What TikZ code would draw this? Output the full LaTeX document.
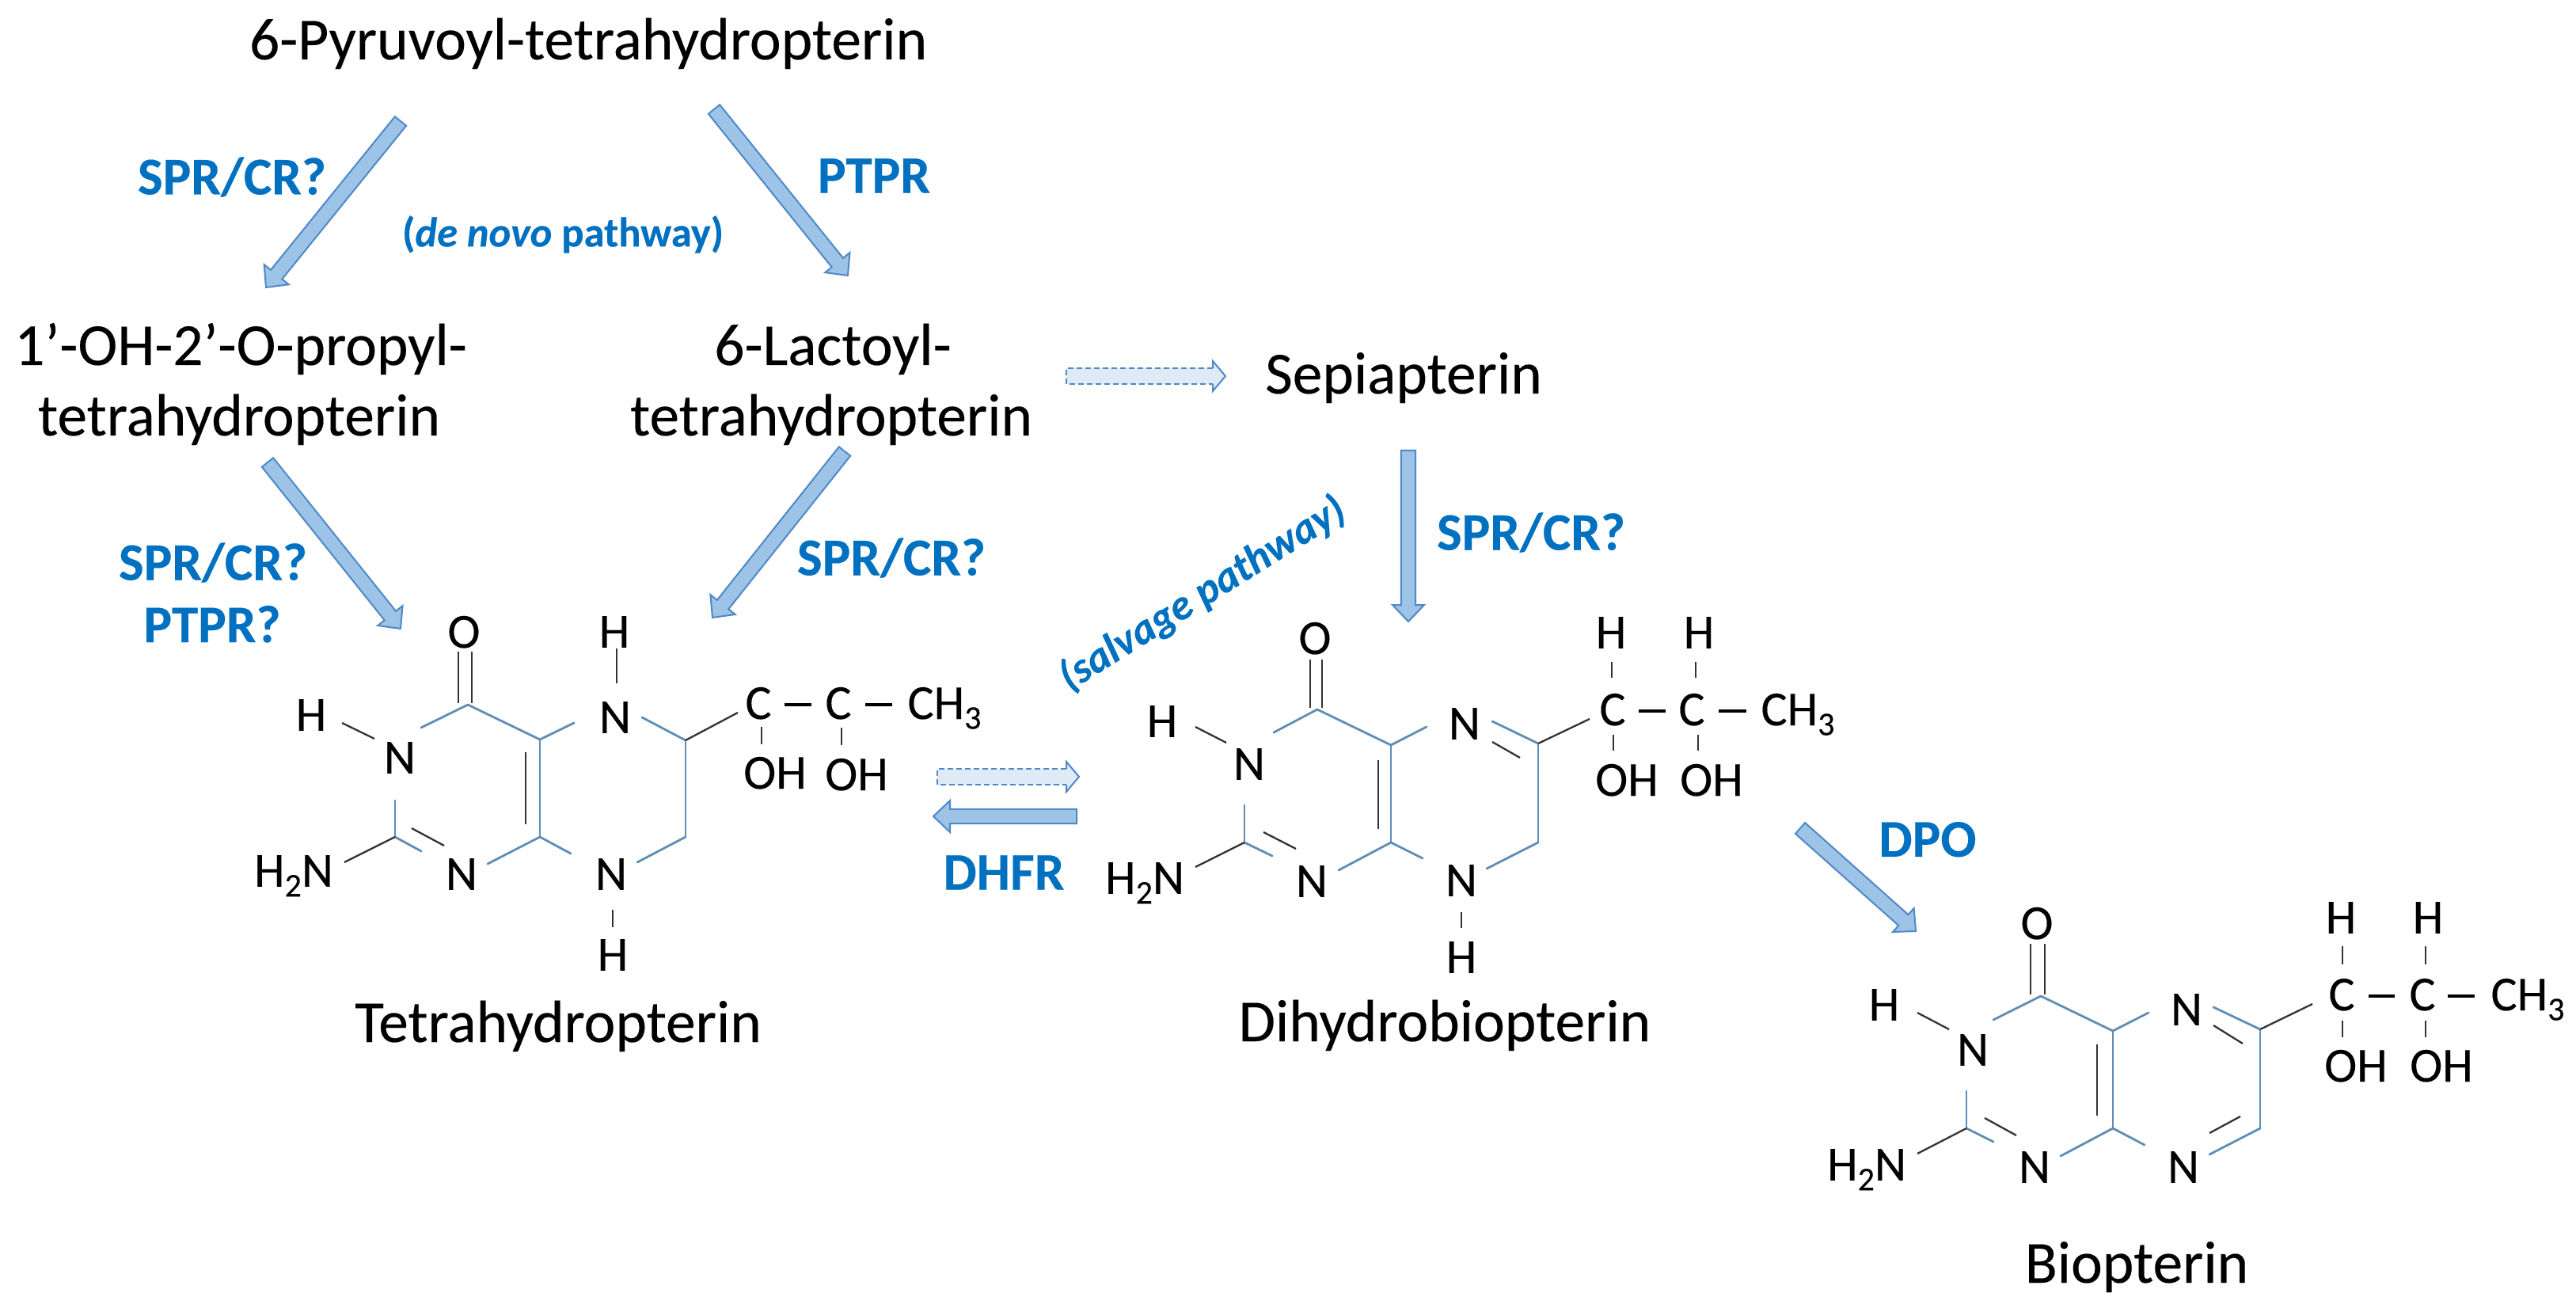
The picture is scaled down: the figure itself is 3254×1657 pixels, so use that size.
\documentclass[tikz,border=0pt]{standalone}
\usepackage{fontspec}
\setmainfont{Carlito}[FakeBold=0.18]
\usetikzlibrary{calc}
\definecolor{labelblue}{HTML}{0070C0}
\definecolor{arrowfill}{HTML}{9DC3E6}
\definecolor{arrowline}{HTML}{4F88C6}
\definecolor{dashfill}{HTML}{DEEAF6}
\definecolor{ringblue}{HTML}{5F8DB5}
\definecolor{blackbond}{HTML}{333333}
\newcommand{\lowtwo}[1]{\raisebox{-.2em}{\fontsize{21}{21}\selectfont #1}}
\newcommand{\bondline}[4]{\coordinate (#2a) at (#3); \coordinate (#2b) at (#4); \draw[#1] (#2a) -- (#2b);}
\newcommand{\blockarrow}[2]{%
  \coordinate (ba) at ($(#2)!10.5pt!(#1)$);
  \coordinate (#1L) at ($(#1)!4.6pt!90:(#2)$);
  \coordinate (#1R) at ($(#1)!4.6pt!-90:(#2)$);
  \coordinate (#2NL) at ($(ba)!4.6pt!90:(#2)$);
  \coordinate (#2NR) at ($(ba)!4.6pt!-90:(#2)$);
  \coordinate (#2HL) at ($(ba)!10pt!90:(#2)$);
  \coordinate (#2HR) at ($(ba)!10pt!-90:(#2)$);
  \draw[reactarrow] (#1L) -- (#2NL) -- (#2HL) -- (#2) -- (#2HR) -- (#2NR) -- (#1R) -- cycle;}
\newcommand{\dasharrow}[2]{%
  \coordinate (ba) at ($(#2)!8pt!(#1)$);
  \coordinate (#1L) at ($(#1)!5pt!90:(#2)$);
  \coordinate (#1R) at ($(#1)!5pt!-90:(#2)$);
  \coordinate (#2NL) at ($(ba)!5pt!90:(#2)$);
  \coordinate (#2NR) at ($(ba)!5pt!-90:(#2)$);
  \coordinate (#2HL) at ($(ba)!9.5pt!90:(#2)$);
  \coordinate (#2HR) at ($(ba)!9.5pt!-90:(#2)$);
  \fill[dashfill] (#1L) -- (#2NL) -- (#2HL) -- (#2) -- (#2HR) -- (#2NR) -- (#1R) -- cycle;
  \draw[arrowline,line width=1.2pt,dash pattern=on 3.5pt off 2pt] (#2NL) -- (#1L) -- (#1R) -- (#2NR);
  \draw[arrowline,line width=1pt] (#2NL) -- (#2HL) -- (#2) -- (#2HR) -- (#2NR);}
\tikzset{
  reactarrow/.style={draw=arrowline,fill=arrowfill,line width=1pt,line join=miter},
  compound/.style={anchor=base,inner sep=0pt,font=\fontsize{37.7}{44.5}\selectfont,align=center,text=black},
  enzyme/.style={anchor=center,inner sep=0pt,font=\fontsize{33.5}{40}\selectfont\bfseries,text=labelblue,text depth=0pt},
  pathway/.style={anchor=center,inner sep=0pt,text=labelblue},
  atomlabel/.style={anchor=center,inner sep=0pt,font=\fontsize{31}{31}\selectfont,text=black,text depth=0pt},
  ring/.style={draw=ringblue,line width=1.4pt,line cap=round},
  inner/.style={draw=blackbond,line width=1.15pt},
  sub/.style={draw=blackbond,line width=1.15pt},
  chain/.style={draw=black,line width=1.7pt},
}
\begin{document}
\begin{tikzpicture}[x=0.5pt,y=-0.5pt]
\useasboundingbox[fill=white] (0,0) rectangle (3254,1657);

% compound names
\node[compound] (pyr) at (743,75) {6-Pyruvoyl-tetrahydropterin};
\node[compound] (prop1) at (304,461) {1’-OH-2’-O-propyl-};
\node[compound] (prop2) at (302,550) {tetrahydropterin};
\node[compound] (lac1) at (1052,461) {6-Lactoyl-};
\node[compound] (lac2) at (1050,550) {tetrahydropterin};
\node[compound] (sepi) at (1773,497) {Sepiapterin};
\node[compound] (thp) at (705,1316) {Tetrahydropterin};
\node[compound] (dhb) at (1825,1315) {Dihydrobiopterin};
\node[compound] (bio) at (2699,1620) {Biopterin};

% enzyme labels
\node[enzyme] (e1) at (293,222) {SPR/CR?};
\node[enzyme] (e2) at (1104,222) {PTPR};
\node[enzyme] (e3) at (269,709) {SPR/CR?};
\node[enzyme] (e3b) at (268,788) {PTPR?};
\node[enzyme] (e4) at (1126,703) {SPR/CR?};
\node[enzyme] (e5) at (1934,671) {SPR/CR?};
\node[enzyme] (e6) at (1268,1102) {DHFR};
\node[enzyme] (e7) at (2435,1060) {DPO};
\node[pathway,font=\fontsize{26.3}{30}\selectfont\bfseries] (denovo) at (711,296) {(\textit{de novo} pathway)};
\node[pathway,font=\fontsize{27}{30}\selectfont\bfseries\itshape,rotate=32] (salvage) at (1519,750) {(salvage pathway)};

% reaction arrows
\coordinate (a1t) at (506,153); \coordinate (a1h) at (336,363);
\coordinate (a2t) at (902,138); \coordinate (a2h) at (1071,348);
\coordinate (a3t) at (338,584); \coordinate (a3h) at (506,794);
\coordinate (a4t) at (1067,570); \coordinate (a4h) at (900,780);
\coordinate (a5t) at (1779,569); \coordinate (a5h) at (1779,785);
\coordinate (a6t) at (1360,1031); \coordinate (a6h) at (1179,1031);
\coordinate (a7t) at (2274,1046); \coordinate (a7h) at (2420,1176);
\coordinate (d1t) at (1347,475); \coordinate (d1h) at (1548,475);
\coordinate (d2t) at (1184,981); \coordinate (d2h) at (1363,981);
\blockarrow{a1t}{a1h}
\blockarrow{a2t}{a2h}
\blockarrow{a3t}{a3h}
\blockarrow{a4t}{a4h}
\blockarrow{a5t}{a5h}
\blockarrow{a6t}{a6h}
\blockarrow{a7t}{a7h}
\dasharrow{d1t}{d1h}
\dasharrow{d2t}{d2h}

% ---- Tetrahydropterin
\node[atomlabel] (tO) at (586,798) {O};
\node[atomlabel] (tH5) at (776,798) {H};
\node[atomlabel] (tH1) at (393,903) {H};
\node[atomlabel] (tN1) at (505,957) {N};
\node[atomlabel] (tN5) at (777,906) {N};
\node[atomlabel] (tN3) at (583,1104) {N};
\node[atomlabel] (tN8) at (772,1104) {N};
\node[atomlabel] (tH8) at (774,1206) {H};
\node[atomlabel] (tNH) at (371,1100) {H\lowtwo{2}N};
\node[atomlabel] (tC1) at (958,888) {C};
\node[atomlabel] (tC2) at (1059,888) {C};
\node[atomlabel] (tCH) at (1193,888) {CH\lowtwo{3}};
\node[atomlabel] (tOH1) at (979,976) {OH};
\node[atomlabel] (tOH2) at (1082,978) {OH};
\bondline{inner}{tdo1}{579,823}{579,888}
\bondline{inner}{tdo2}{596,823}{596,888}
\bondline{ring}{tr1}{532,919}{591,890}
\bondline{ring}{tr2}{591,890}{682,934}
\bondline{ring}{tr3}{682,934}{725,913}
\bondline{ring}{tr4}{811,906}{866,935}
\bondline{ring}{tr5}{866,935}{866,1057}
\bondline{ring}{tr6}{866,1057}{805,1089}
\bondline{ring}{tr7}{682,934}{682,1057}
\bondline{ring}{tr8}{682,1057}{721,1078}
\bondline{ring}{tr9}{682,1057}{616,1091}
\bondline{ring}{tr10}{499,1057}{532,1075}
\bondline{ring}{tr11}{499,1057}{499,1011}
\bondline{inner}{ti1}{664,950}{664,1041}
\bondline{inner}{ti2}{520,1046}{561,1068}
\bondline{sub}{ts1}{432,913}{473,933}
\bondline{sub}{ts2}{779,819}{779,863}
\bondline{sub}{ts3}{774,1149}{774,1171}
\bondline{sub}{ts4}{499,1057}{435,1089}
\bondline{sub}{ts5}{866,935}{932,900}
\bondline{sub}{ts6}{962,918}{962,940}
\bondline{sub}{ts7}{1063,919}{1063,941}
\bondline{chain}{tc1}{991,890}{1025,890}
\bondline{chain}{tc2}{1093,890}{1127,890}

% ---- Dihydrobiopterin
\node[atomlabel] (dO) at (1661,806) {O};
\node[atomlabel] (dH1) at (1468,911) {H};
\node[atomlabel] (dN1) at (1578,965) {N};
\node[atomlabel] (dN5) at (1850,914) {N};
\node[atomlabel] (dN3) at (1657,1113) {N};
\node[atomlabel] (dN8) at (1846,1112) {N};
\node[atomlabel] (dH8) at (1846,1209) {H};
\node[atomlabel] (dNH) at (1446,1109) {H\lowtwo{2}N};
\node[atomlabel] (dC1) at (2037,896) {C};
\node[atomlabel] (dC2) at (2137,896) {C};
\node[atomlabel] (dCH) at (2271,896) {CH\lowtwo{3}};
\node[atomlabel] (dHa) at (2035,799) {H};
\node[atomlabel] (dHb) at (2146,799) {H};
\node[atomlabel] (dOH1) at (2055,985) {OH};
\node[atomlabel] (dOH2) at (2162,985) {OH};
\bondline{inner}{ddo1}{1655,833}{1655,894}
\bondline{inner}{ddo2}{1670,833}{1670,894}
\bondline{ring}{dr1}{1609,925}{1664,896}
\bondline{ring}{dr2}{1664,896}{1757,941}
\bondline{ring}{dr3}{1757,941}{1802,918}
\bondline{ring}{dr4}{1885,911}{1943,939}
\bondline{ring}{dr5}{1943,939}{1943,1064}
\bondline{ring}{dr6}{1943,1064}{1878,1097}
\bondline{ring}{dr7}{1757,941}{1757,1064}
\bondline{ring}{dr8}{1757,1064}{1797,1084}
\bondline{ring}{dr9}{1757,1064}{1691,1099}
\bondline{ring}{dr10}{1572,1064}{1607,1081}
\bondline{ring}{dr11}{1572,1064}{1572,1017}
\bondline{inner}{di1}{1741,960}{1741,1047}
\bondline{inner}{di2}{1596,1051}{1637,1072}
\bondline{inner}{di3}{1885,937}{1920,957}
\bondline{sub}{ds1}{1510,918}{1549,938}
\bondline{sub}{ds2}{1846,1152}{1846,1172}
\bondline{sub}{ds3}{1572,1064}{1510,1095}
\bondline{sub}{ds4}{1943,939}{2008,908}
\bondline{sub}{ds5}{2036,836}{2036,856}
\bondline{sub}{ds6}{2142,836}{2142,856}
\bondline{sub}{ds7}{2038,928}{2038,948}
\bondline{sub}{ds8}{2145,928}{2145,948}
\bondline{chain}{dc1}{2070,898}{2104,898}
\bondline{chain}{dc2}{2171,898}{2206,898}

% ---- Biopterin
\node[atomlabel] (bO) at (2573,1166) {O};
\node[atomlabel] (bH1) at (2380,1269) {H};
\node[atomlabel] (bN1) at (2492,1326) {N};
\node[atomlabel] (bN5) at (2762,1275) {N};
\node[atomlabel] (bN3) at (2570,1474) {N};
\node[atomlabel] (bN8) at (2758,1474) {N};
\node[atomlabel] (bNH) at (2358,1471) {H\lowtwo{2}N};
\node[atomlabel] (bC1) at (2958,1256) {C};
\node[atomlabel] (bC2) at (3060,1256) {C};
\node[atomlabel] (bCH) at (3193,1256) {CH\lowtwo{3}};
\node[atomlabel] (bHa) at (2957,1159) {H};
\node[atomlabel] (bHb) at (3067,1159) {H};
\node[atomlabel] (bOH1) at (2976,1346) {OH};
\node[atomlabel] (bOH2) at (3084,1346) {OH};
\bondline{inner}{bdo1}{2565,1192}{2565,1256}
\bondline{inner}{bdo2}{2583,1192}{2583,1256}
\bondline{ring}{br1}{2518,1288}{2578,1258}
\bondline{ring}{br2}{2578,1258}{2669,1302}
\bondline{ring}{br3}{2669,1302}{2714,1279}
\bondline{ring}{br4}{2796,1272}{2855,1300}
\bondline{ring}{br5}{2855,1300}{2855,1425}
\bondline{ring}{br6}{2855,1425}{2791,1458}
\bondline{ring}{br7}{2669,1302}{2669,1425}
\bondline{ring}{br8}{2669,1425}{2709,1446}
\bondline{ring}{br9}{2669,1425}{2603,1460}
\bondline{ring}{br10}{2484,1425}{2518,1442}
\bondline{ring}{br11}{2484,1425}{2484,1378}
\bondline{inner}{bi1}{2649,1319}{2649,1409}
\bondline{inner}{bi2}{2507,1412}{2547,1434}
\bondline{inner}{bi3}{2796,1295}{2833,1318}
\bondline{inner}{bi4}{2830,1410}{2791,1431}
\bondline{sub}{bs1}{2422,1279}{2462,1300}
\bondline{sub}{bs2}{2484,1425}{2422,1457}
\bondline{sub}{bs3}{2855,1300}{2921,1268}
\bondline{sub}{bs4}{2959,1195}{2959,1218}
\bondline{sub}{bs5}{3064,1195}{3064,1218}
\bondline{sub}{bs6}{2959,1289}{2959,1310}
\bondline{sub}{bs7}{3064,1289}{3064,1310}
\bondline{chain}{bc1}{2992,1258}{3025,1258}
\bondline{chain}{bc2}{3092,1258}{3126,1258}
\end{tikzpicture}
\end{document}
